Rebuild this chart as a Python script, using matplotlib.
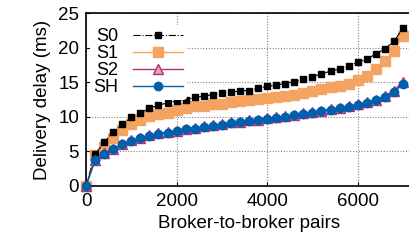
import matplotlib
matplotlib.use("Agg")
import matplotlib.pyplot as plt
import numpy as np

plt.rcParams["font.family"] = ["Liberation Sans", "DejaVu Sans"]

# broker-to-broker pairs, sampled every 200
pairs = np.arange(0, 7001, 200)

s0 = [0, 4.6, 6.3, 7.8, 8.9, 9.9, 10.6, 11.2, 11.7, 12.0, 12.3,
      12.5, 12.8, 13.0, 13.2, 13.4, 13.6, 13.7, 13.8, 14.1, 14.4, 14.6, 14.8,
      15.1, 15.4, 15.8, 16.2, 16.6, 16.9, 17.3, 17.9, 18.3, 19.1, 19.8, 20.9, 22.8]
s1 = [0, 4.5, 5.7, 7.0, 8.1, 9.0, 9.6, 10.1, 10.4, 10.6, 11.0,
      11.2, 11.5, 11.6, 11.8, 11.9, 12.1, 12.3, 12.4, 12.6, 12.7, 12.9, 13.0,
      13.2, 13.5, 13.8, 14.0, 14.3, 14.5, 14.8, 15.3, 15.9, 16.9, 18.0, 19.5, 21.7]
s2 = [0, 3.8, 4.7, 5.4, 6.1, 6.6, 7.0, 7.3, 7.6, 7.8, 8.0,
      8.3, 8.4, 8.6, 8.8, 8.9, 9.2, 9.3, 9.5, 9.6, 9.8, 9.9, 10.1,
      10.3, 10.5, 10.7, 10.9, 11.1, 11.3, 11.5, 11.8, 12.1, 12.5, 13.0, 13.8, 15.1]
sh = [0, 3.7, 4.6, 5.3, 6.0, 6.5, 6.9, 7.2, 7.5, 7.7, 7.9,
      8.2, 8.3, 8.5, 8.7, 8.8, 9.1, 9.2, 9.4, 9.5, 9.7, 9.8, 10.0,
      10.2, 10.4, 10.6, 10.8, 11.0, 11.2, 11.4, 11.7, 12.0, 12.4, 12.9, 13.6, 14.7]

fig = plt.figure(figsize=(4.09, 2.48), dpi=100)
ax = fig.add_axes([86 / 409, 62 / 248, 326 / 409, 173 / 248])

ax.plot(pairs, s0, color="black", linestyle="-.", linewidth=0.8,
        marker="s", markersize=4, label="S0", clip_on=False, zorder=3)
ax.plot(pairs, s1, color="#F4A460", linestyle="-", linewidth=1.0,
        marker="s", markersize=7.5, label="S1", clip_on=False, zorder=2)
ax.plot(pairs, s2, color="#B03070", linestyle="-", linewidth=1.0,
        marker="^", markersize=6.5, markerfacecolor="#E8A0C0",
        markeredgecolor="#B03070", label="S2", clip_on=False, zorder=4)
ax.plot(pairs, sh, color="#0060AD", linestyle="-", linewidth=1.0,
        marker="o", markersize=6, label="SH", clip_on=False, zorder=5)

ax.set_xlim(0, 7200)
ax.set_ylim(0, 25)
ax.set_xticks([0, 2000, 4000, 6000])
ax.set_yticks([0, 5, 10, 15, 20, 25])
ax.tick_params(labelsize=13.5, direction="in", length=3, pad=5)
ax.grid(True, color="#808080", linestyle=(0, (1, 1.5)), linewidth=0.8)
ax.set_axisbelow(True)
ax.set_xlabel("Broker-to-broker pairs", fontsize=13.5, labelpad=4)
ax.set_ylabel("Delivery delay (ms)", fontsize=13.5, labelpad=5)
for sp in ax.spines.values():
    sp.set_linewidth(1.2)

leg = ax.legend(loc="upper left", bbox_to_anchor=(0.0, 1 - 8 / 173),
                fontsize=13, markerfirst=False,
                handlelength=2.8, labelspacing=0.0, borderpad=0.2,
                handletextpad=0.8, borderaxespad=0.2, frameon=True)
leg.get_frame().set_facecolor("white")
leg.get_frame().set_edgecolor("none")
leg.get_frame().set_alpha(1.0)

fig.savefig("out.png", dpi=100)
